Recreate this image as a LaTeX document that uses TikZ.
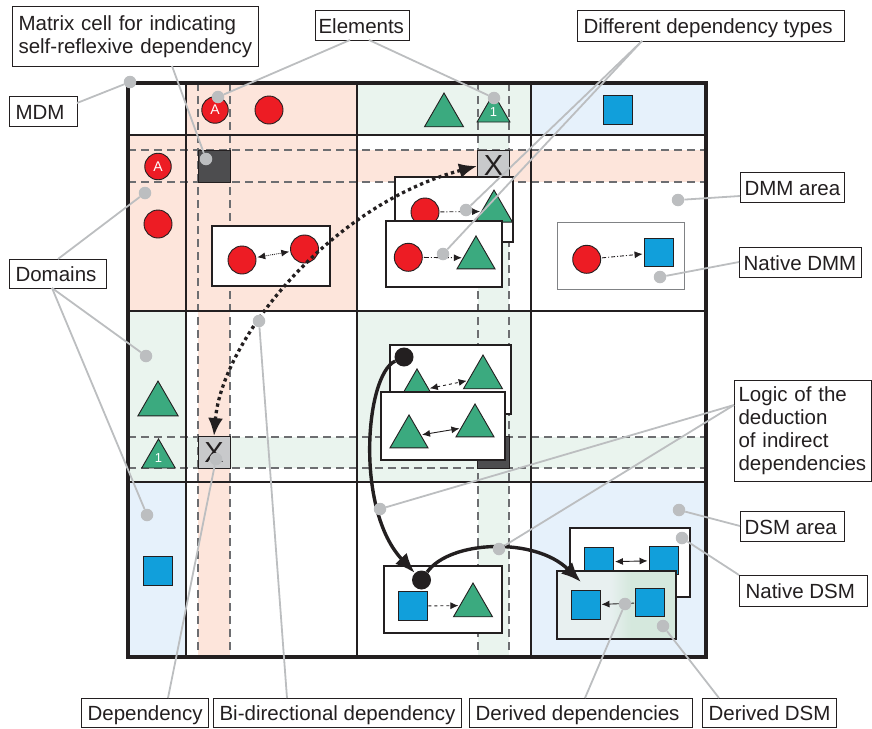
\documentclass[tikz,border=0pt]{standalone}
\usepackage{fontspec}
\setmainfont{Liberation Sans}
\usetikzlibrary{arrows.meta,shapes.geometric}

\definecolor{ink}{HTML}{231F20}
\definecolor{peach}{HTML}{FDE5DB}
\definecolor{mint}{HTML}{EAF4EE}
\definecolor{sky}{HTML}{E6F1FB}
\definecolor{elred}{HTML}{ED1C24}
\definecolor{elgreen}{HTML}{3BAA7F}
\definecolor{elblue}{HTML}{119FDB}
\definecolor{pingray}{HTML}{BCBEC0}
\definecolor{dashgray}{HTML}{6D6E71}
\definecolor{cellgray}{HTML}{C8C9CB}
\definecolor{celldark}{HTML}{4D4D4F}
\definecolor{boxgray}{HTML}{808285}
\definecolor{dsL}{HTML}{E8F0F0}
\definecolor{dsR}{HTML}{D5E8DD}

% fill of the derived DSM: pale on the left, green on the right
\pgfdeclarehorizontalshading{derivedfill}{100bp}{color(0bp)=(dsL); color(47bp)=(dsL); color(56bp)=(dsR); color(100bp)=(dsR)}

\newcommand\lblfont{\fontsize{20.5}{23}\selectfont}
% one-line label text in a fixed-width slot, never wrapped
\newcommand\slot[2]{\makebox[#1][l]{#2}}

\begin{document}
\begin{tikzpicture}[x=1pt,y=-1pt,
  gridline/.style={ink, line width=1.3},
  guideline/.style={dashgray, line width=1.1, dash pattern=on 8 off 5},
  rc/.style={circle, draw=ink, line width=0.9, fill=elred, minimum size=28, inner sep=0},
  rca/.style={rc, minimum size=26.5, text=white, font=\fontsize{14}{14}\selectfont},
  tri/.style={regular polygon, regular polygon sides=3, draw=ink, line width=0.9, fill=elgreen, inner sep=0, minimum size=#1},
  tri1/.style={text=white, font=\fontsize{13}{13}\selectfont},
  sq/.style={rectangle, draw=ink, line width=0.9, fill=elblue, minimum width=29, minimum height=28.5, inner sep=0},
  panel/.style={draw=ink, fill=white, line width=1.1},
  selfcell/.style={rectangle, draw=ink, line width=0.9, fill=celldark, minimum width=32, minimum height=32, inner sep=0},
  xcell/.style={selfcell, fill=cellgray, text=ink, font=\fontsize{29}{29}\selectfont},
  smallarrow/.style={ink, line width=0.9, shorten <=1, shorten >=1, >={Latex[length=8,width=7]}},
  dashdotline/.style={dash pattern=on 4 off 2 on 1 off 2},
  bigdot/.style={circle, fill=ink, minimum size=19, inner sep=0},
  heavyarrow/.style={ink, line width=3.4, -{Latex[length=20,width=16]}},
  dotcurve/.style={ink, line width=3.3, dash pattern=on 3.3 off 3.3, {Latex[length=18,width=15]}-{Latex[length=18,width=15]}},
  pindot/.style={circle, fill=pingray, minimum size=12.5, inner sep=0},
  leader/.style={pingray, line width=1.8},
  lbl/.style={draw=ink, fill=white, line width=1.1, anchor=north west, align=left, inner xsep=6, inner ysep=0, font=\lblfont, text=ink},
  lblone/.style={draw=ink, fill=white, line width=1.1, anchor=north west, inner xsep=6, inner ysep=0, font=\lblfont, text=ink, text height=15, text depth=0, minimum height=30}
]
\useasboundingbox (0,0) rectangle (872,728);

% ---- domain areas ----
\fill[peach] (186,83) rectangle (357,135);
\fill[mint]  (357,83) rectangle (531,135);
\fill[sky]   (531,83) rectangle (706,135);
\fill[peach] (128,135) rectangle (186,311);
\fill[mint]  (128,311) rectangle (186,482);
\fill[sky]   (128,482) rectangle (186,657);
\fill[peach] (186,135) rectangle (357,311);
\fill[mint]  (357,311) rectangle (531,482);
\fill[sky]   (531,482) rectangle (706,657);
% highlighted row and column of element A and element 1
\fill[peach] (128,150) rectangle (706,182);
\fill[peach] (198,83) rectangle (230,657);
\fill[mint]  (128,437) rectangle (706,468);
\fill[mint]  (478,83) rectangle (509,657);

% ---- dashed guides ----
\draw[guideline] (128,150) -- (706,150);
\draw[guideline] (128,182) -- (706,182);
\draw[guideline] (128,437) -- (706,437);
\draw[guideline] (128,468) -- (706,468);
\draw[guideline] (198,83) -- (198,657);
\draw[guideline] (230,83) -- (230,657);
\draw[guideline] (478,83) -- (478,657);
\draw[guideline] (509,83) -- (509,657);

% ---- matrix grid ----
\draw[gridline] (186,83) -- (186,657);
\draw[gridline] (357,83) -- (357,657);
\draw[gridline] (531,83) -- (531,657);
\draw[gridline] (128,135) -- (706,135);
\draw[gridline] (128,311) -- (706,311);
\draw[gridline] (128,482) -- (706,482);

% ---- special cells ----
\node[selfcell] (selfA) at (214,166) {};
\node[selfcell] (selfOne) at (493.5,452.5) {};
\node[xcell] (xTop) at (493.5,166) {X};
\node[xcell] (xLeft) at (214,452.5) {X};

\draw[ink, line width=3.2] (128,83) rectangle (706,657);

% ---- elements in the header row ----
\node[rca] (hA) at (215,110) {A};
\node[rc] (hR) at (269,110) {};
\node[tri=45] (hG) at (444,115.5) {};
\node[tri=38, tri1] (hG1) at (493.5,112.5) {1};
\node[sq] (hB) at (617.5,110) {};

% ---- elements in the header column ----
\node[rca] (cA) at (158,166.5) {A};
\node[rc] (cR) at (158,224) {};
\node[tri=46.5] (cG) at (158,404.3) {};
\node[tri=38.7, tri1] (cG1) at (158.5,458.3) {1};
\node[sq] (cB) at (157.5,571) {};

% ---- red DSM: bi-directional dependency ----
\draw[panel] (212,226) rectangle (330,286);
\node[rc] (r1) at (242,260) {};
\node[rc] (r2) at (304.5,249) {};
\draw[smallarrow, densely dotted, <->] (r1) -- (r2);

% ---- red/green DMM: two dependency types ----
\draw[panel] (395,177) rectangle (513,242);
\node[rc] (dr1) at (425,212) {};
\node[tri=42.7] (dg1) at (494,211.4) {};
\draw[smallarrow, dashdotline, ->] (dr1) -- (dg1);
\draw[panel] (386,221) rectangle (502,287);
\node[rc] (dr2) at (408.3,257.3) {};
\node[tri=43.9] (dg2) at (476,257.9) {};
\draw[smallarrow, dash pattern=on 5 off 2 on 1 off 2, ->] (dr2) -- (dg2);

% ---- native DMM ----
\draw[boxgray, fill=white, line width=1] (557,222) rectangle (684,289);
\node[rc] (nr) at (586.7,259.3) {};
\node[sq] (nb) at (658.5,252.5) {};
\draw[smallarrow, dashdotline, ->] (nr) -- (nb);

% ---- green DSM ----
\draw[panel] (390,345) rectangle (511,414);
\node[tri=43.9] (gb1) at (417,390.9) {};
\node[tri=45] (gb2) at (483,377.5) {};
\draw[smallarrow, dashed, <->] (gb1) -- (gb2);
\draw[panel] (381,392) rectangle (505,460);
\node[tri=43.9] (gf1) at (409,436.9) {};
\node[tri=43.9] (gf2) at (475,425.9) {};
\draw[smallarrow, <->] (gf1) -- (gf2);

% ---- blue/green DMM ----
\draw[panel] (384,566) rectangle (502,633);
\node[sq] (bb) at (412.5,606) {};
\node[tri=45] (bg) at (473,605.5) {};
\draw[smallarrow, dashed, ->] (bb) -- (bg);

% ---- native and derived DSM ----
\draw[panel] (570,528) rectangle (690,597);
\node[sq] (sb1) at (599,562) {};
\node[sq] (sb2) at (663.5,560.5) {};
\draw[smallarrow, <->] (sb1) -- (sb2);
\path[shading=derivedfill, draw=ink, line width=1.1] (557,571) rectangle (676,639);
\node[sq] (sf1) at (585.5,605) {};
\node[sq] (sf2) at (650,602.5) {};
\draw[smallarrow, ->] (sf2) -- (sf1);

% ---- bi-directional dependency between the X cells ----
\draw[dotcurve] (xLeft.north) .. controls (222,340) and (330,205) .. (xTop.west);

% ---- deduction of indirect dependencies ----
\node[bigdot] (k1) at (404,357) {};
\node[bigdot] (k2) at (421.5,580) {};
\coordinate (k3) at (581,582);
\draw[heavyarrow] (k1) .. controls (365,375) and (355,510) .. (k2);
\draw[heavyarrow] (k2) .. controls (450,540) and (535,537) .. (k3);

% ---- labels ----
\node[lbl, text width=234, minimum height=60] (lSelf) at (12,6) {Matrix cell for indicating\\self-reflexive dependency};
\node[lblone, inner xsep=3] (lEl) at (315,10) {\slot{88pt}{Elements}};
\node[lblone, minimum height=31] (lDiff) at (577,10) {\slot{255pt}{Different dependency types}};
\node[lblone] (lMDM) at (9,96) {\slot{56pt}{MDM}};
\node[lblone, minimum height=29] (lDom) at (9,259) {\slot{85pt}{Domains}};
\node[lblone, inner xsep=4] (lDMMa) at (740,172) {\slot{96pt}{DMM area}};
\node[lblone, inner xsep=4] (lNatDMM) at (739,247) {\slot{114pt}{Native DMM}};
\node[lbl, inner xsep=4, text width=129, minimum height=101] (lLogic) at (734,380) {Logic of the\\deduction\\of indirect\\dependencies};
\node[lblone, inner xsep=4] (lDSMa) at (740,511) {\slot{96pt}{DSM area}};
\node[lblone, minimum height=31] (lNatDSM) at (739,575) {\slot{116pt}{Native DSM}};
\node[lblone, minimum height=29] (lDep) at (81,698) {\slot{115pt}{Dependency}};
\node[lblone, minimum height=29] (lBi) at (213,698) {\slot{236pt}{Bi-directional dependency}};
\node[lblone, minimum height=29] (lDerDep) at (469,698) {\slot{211pt}{Derived dependencies}};
\node[lblone, minimum height=29] (lDerDSM) at (702,698) {\slot{122pt}{Derived DSM}};

% ---- leader start points on the label boxes ----
\coordinate (sMDM) at (77,103);
\coordinate (sEl1) at (350,40);
\coordinate (sEl2) at (369,40);
\coordinate (sSelf) at (172,66);
\coordinate (sDiff) at (642,41);
\coordinate (sDomT) at (58,259);
\coordinate (sDomB) at (52,288);
\coordinate (sDMMa) at (740,196);
\coordinate (sNatDMM) at (739,262);
\coordinate (sLogic) at (734,405);
\coordinate (sDSMa) at (740,526);
\coordinate (sNatDSM) at (739,575);
\coordinate (sDep) at (168,698);
\coordinate (sBi) at (287,698);
\coordinate (sDerDep) at (585,698);
\coordinate (sDerDSM) at (719,698);

% ---- pins ----
\node[pindot] (pMDM) at (130,82) {};
\node[pindot] (pEl1) at (218,97) {};
\node[pindot] (pEl2) at (494,98) {};
\node[pindot] (pSelf) at (206,159) {};
\node[pindot] (pDiffA) at (466,210) {};
\node[pindot] (pDiffB) at (443,254) {};
\node[pindot] (pDom1) at (145,193) {};
\node[pindot] (pDom2) at (146,356) {};
\node[pindot] (pDom3) at (147,515) {};
\node[pindot] (pDMMa) at (678,200) {};
\node[pindot] (pNatDMM) at (660,277) {};
\node[pindot] (pLog1) at (380,509) {};
\node[pindot] (pLog2) at (499,549) {};
\node[pindot] (pDSMa) at (679,510) {};
\node[pindot] (pNatDSM) at (682,538) {};
\node[pindot] (pDep) at (216,459) {};
\node[pindot] (pBi) at (259,321) {};
\node[pindot] (pDerDep) at (625,604) {};
\node[pindot] (pDerDSM) at (663,626) {};

% ---- leaders ----
\draw[leader] (sMDM) -- (pMDM);
\draw[leader] (sEl1) -- (pEl1);
\draw[leader] (sEl2) -- (pEl2);
\draw[leader] (sSelf) -- (pSelf);
\draw[leader] (sDiff) -- (pDiffA);
\draw[leader] (sDiff) -- (pDiffB);
\draw[leader] (sDomT) -- (pDom1);
\draw[leader] (sDomB) -- (pDom2);
\draw[leader] (sDomB) -- (pDom3);
\draw[leader] (sDMMa) -- (pDMMa);
\draw[leader] (sNatDMM) -- (pNatDMM);
\draw[leader] (sLogic) -- (pLog1);
\draw[leader] (sLogic) -- (pLog2);
\draw[leader] (sDSMa) -- (pDSMa);
\draw[leader] (sNatDSM) -- (pNatDSM);
\draw[leader] (sDep) -- (pDep);
\draw[leader] (sBi) -- (pBi);
\draw[leader] (sDerDep) -- (pDerDep);
\draw[leader] (sDerDSM) -- (pDerDSM);
\end{tikzpicture}
\end{document}
